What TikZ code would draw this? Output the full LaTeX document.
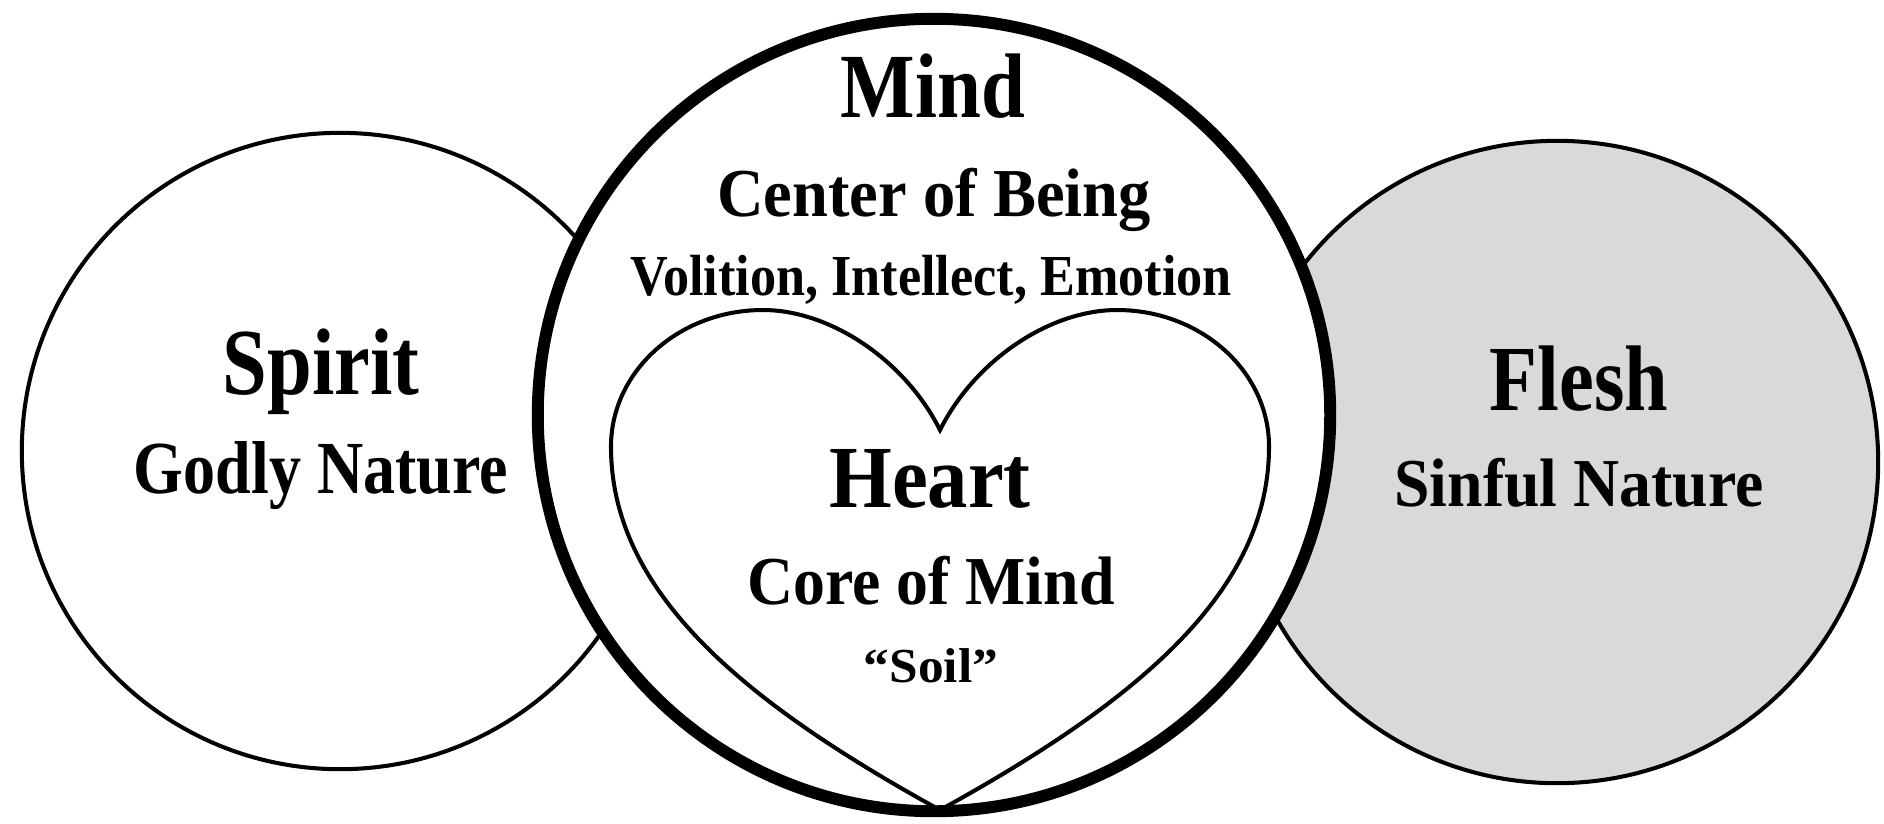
\documentclass[tikz,border=0pt]{standalone}
\usepackage{fontspec}
\setmainfont{Liberation Serif}
\definecolor{fleshgray}{RGB}{217,217,217}
\newcommand{\mylbl}[3]{{\fontsize{#1pt}{#1pt}\selectfont\bfseries\scalebox{#2}[1]{#3}}}
\begin{document}
\begin{tikzpicture}[x=0.01cm,y=-0.01cm,
  thinline/.style={line width=1.15pt},
  thickline/.style={line width=3.4pt},
  ring/.style={circle, draw, inner sep=0pt, outer sep=0pt},
  lbl/.style={anchor=base, inner sep=0pt, outer sep=0pt}]
\useasboundingbox (0,0) rectangle (1884,823);
% circles
\node[ring, thinline, fill=white, minimum size=6.36cm] (spiritc) at (340,451) {};
\node[ring, thinline, fill=fleshgray, minimum size=6.42cm] (fleshc) at (1557,462) {};
\node[ring, thickline, fill=white, minimum size=7.92cm] (mindc) at (934,415) {};
% heart
\coordinate (dip) at (940,430);
\coordinate (tip) at (940,810);
\draw[thinline, line join=miter]
  (dip) .. controls (905,360) and (830,310) .. (763,310)
        .. controls (680,310) and (612,370) .. (611,445)
        .. controls (610,590) and (740,700) .. (tip)
        .. controls (1140,700) and (1270,590) .. (1269,445)
        .. controls (1268,370) and (1200,310) .. (1117,310)
        .. controls (1050,310) and (975,360) .. (dip) -- cycle;
% labels
\node[lbl] (mind) at (933,117) {\mylbl{26.1}{0.86}{Mind}};
\node[lbl] (center) at (934,216) {\mylbl{19.5}{0.94}{Center of Being}};
\node[lbl] (volition) at (931,295) {\mylbl{16.5}{0.90}{Volition, Intellect, Emotion}};
\node[lbl] (spirit) at (321,394) {\mylbl{26.9}{0.85}{Spirit}};
\node[lbl] (godly) at (321,493) {\mylbl{21.3}{0.855}{Godly Nature}};
\node[lbl] (heart) at (930,507) {\mylbl{25.2}{0.91}{Heart}};
\node[lbl] (core) at (931,604) {\mylbl{19.5}{0.93}{Core of Mind}};
\node[lbl] (soil) at (931,682) {\mylbl{13.9}{1.05}{“Soil”}};
\node[lbl] (flesh) at (1579,410) {\mylbl{26.5}{0.84}{Flesh}};
\node[lbl] (sinful) at (1579,506) {\mylbl{19.5}{0.93}{Sinful Nature}};
\end{tikzpicture}
\end{document}
